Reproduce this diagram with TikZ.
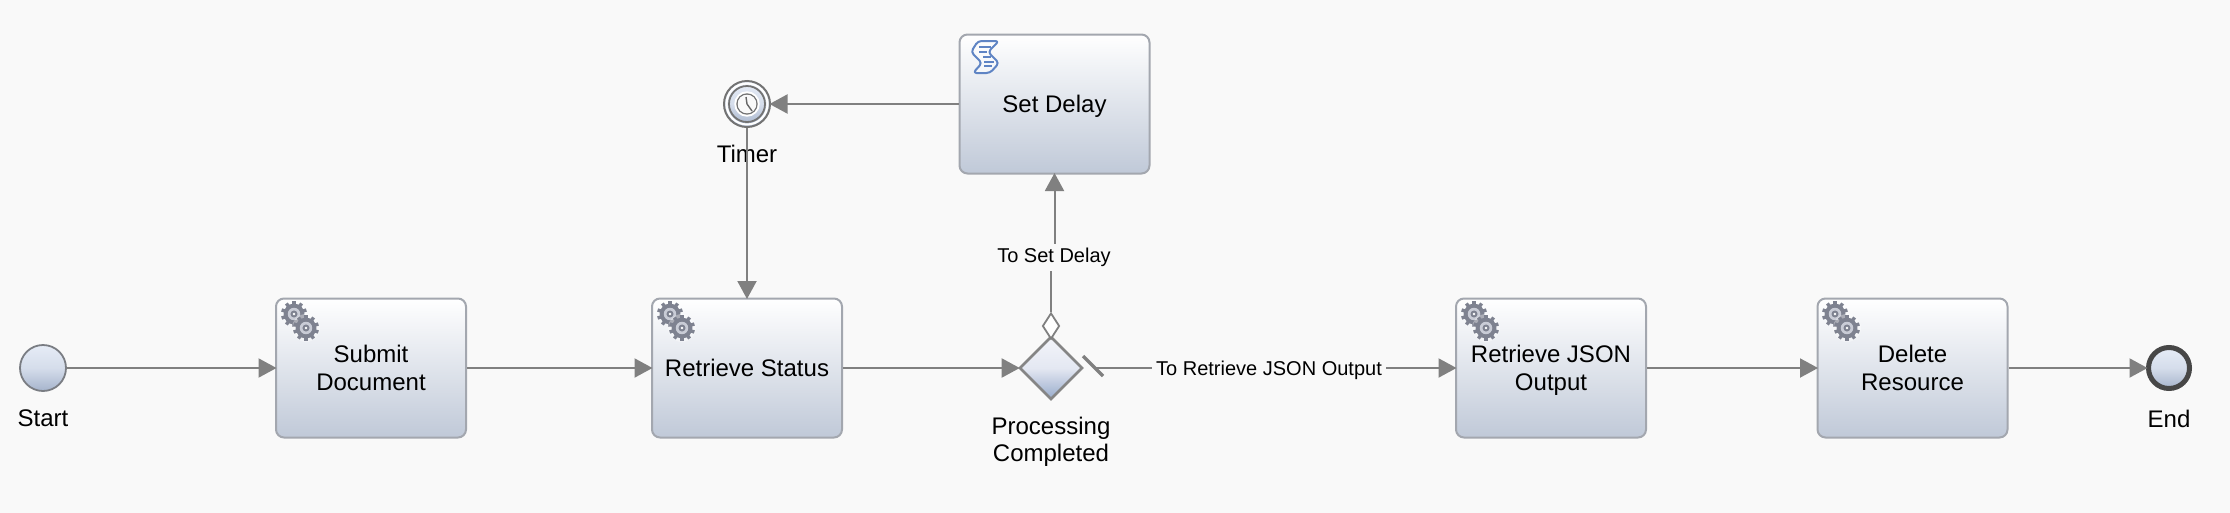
\documentclass[tikz,border=0pt]{standalone}
\usepackage{fontspec}
\setmainfont{Liberation Sans}
\usetikzlibrary{arrows.meta,shapes.geometric,calc}
\definecolor{bgc}{HTML}{F9F9F9}
\definecolor{linec}{HTML}{808080}
\definecolor{taskedge}{HTML}{A3A7AF}
\definecolor{tbot}{HTML}{C0C9D8}
\definecolor{etop}{HTML}{E6ECF6}
\definecolor{emid}{HTML}{D5DDEB}
\definecolor{ebot}{HTML}{A6B4CC}
\definecolor{dtop}{HTML}{F3F4FA}
\definecolor{dmid}{HTML}{E4E8F2}
\definecolor{dbot}{HTML}{98ABCB}
\definecolor{gearc}{HTML}{7E8290}
\definecolor{gearh}{HTML}{C9CCD6}
\definecolor{scriptc}{HTML}{5F84C4}
\pgfdeclareverticalshading{taskfill}{100bp}{
 color(0bp)=(tbot);color(25bp)=(tbot);color(75bp)=(white);color(100bp)=(white)}
\pgfdeclareverticalshading{eventfill}{100bp}{
 color(0bp)=(ebot);color(25bp)=(ebot);color(50bp)=(emid);color(75bp)=(etop);color(100bp)=(etop)}
\pgfdeclareverticalshading{gatefill}{100bp}{
 color(0bp)=(dbot);color(25bp)=(dbot);color(50bp)=(dmid);color(75bp)=(dtop);color(100bp)=(dtop)}
\newcommand{\gearpath}[3]{% x y radius
  \begin{scope}[shift={(#1,#2)}]
    \foreach \a in {0,36,...,324}{
      \fill[gearc,rotate=\a] (-#3*0.13,#3*0.6) rectangle (#3*0.13,#3);
    }
    \fill[gearc] (0,0) circle[radius=#3*0.8];
    \fill[gearh] (0,0) circle[radius=#3*0.48];
    \fill[gearc] (0,0) circle[radius=#3*0.27];
    \fill[white] (0,0) circle[radius=#3*0.1];
  \end{scope}}
\newcommand{\nodepth}[1]{\raisebox{0pt}[\height][0pt]{#1}}
\tikzset{
  x=1pt,y=-1pt,
  taskbox/.style={draw=taskedge,line width=2pt,rounded corners=8pt,minimum width=190pt,minimum height=139pt,
    shading=taskfill,align=center,inner sep=0pt,font=\fontsize{24}{27.5}\selectfont,text=black},
  eventc/.style={circle,shading=eventfill,minimum size=46pt,inner sep=0pt},
  captext/.style={font=\fontsize{24}{27.5}\selectfont,align=center,text=black,inner sep=0pt},
  edgelab/.style={font=\fontsize{20}{24}\selectfont,text=black,inner sep=4pt},
  flow/.style={draw=linec,line width=2pt,shorten >=-1.5pt,-{Triangle[length=18pt,width=19pt,fill=linec]}},
  plainflow/.style={draw=linec,line width=2pt},
  pics/gears/.style={code={
    \gearpath{-6}{-8}{13}
    \fill[white,opacity=.35] (6,6) circle[radius=14];
    \gearpath{6}{6}{13}
  }},
  pics/scripticon/.style={code={
    \draw[draw=scriptc,line width=2pt,line join=round,fill=white,fill opacity=.45,rounded corners=3.5pt]
      (-7,-16) -- (14,-16) -- (3,-5) -- (14,6) -- (5,16) -- (-12,16) -- (-3,6) -- (-14,-5) -- cycle;
    \foreach \ya/\xa/\xb in {-10/-6/6,-5/-6/2,0/-2/6,5/-1/9,9/-1/7}{
      \draw[scriptc,line width=1.8pt] (\xa,\ya) -- (\xb,\ya);
    }
  }},
}
\begin{document}
\begin{tikzpicture}
\fill[bgc] (-5,-5) rectangle (2235,519);

% tasks
\node[taskbox] (submit) at (371,369) {Submit\\Document};
\node[taskbox] (status) at (747,369) {Retrieve Status};
\node[taskbox] (json) at (1551,369) {Retrieve JSON\\\nodepth{Output}};
\node[taskbox] (delete) at (1912.5,369) {Delete\\Resource};
\node[taskbox] (delay) at (1054.5,105) {\nodepth{Set Delay}};

% events
\node[eventc,draw=taskedge!75!black,line width=1.8pt] (start) at (43,369) {};
\node[eventc,draw=black!72,line width=5pt,minimum size=41pt] (end) at (2169,369) {};
\node[eventc,draw=black!55,line width=2pt,minimum size=46pt] (timer) at (747,105) {};
\draw[white,line width=2pt] (timer.center) circle[radius=20.5];
\draw[black!55,line width=1.8pt] (timer.center) circle[radius=18];
\draw[white,line width=2.4pt] (timer.center) circle[radius=11.5];
\draw[black!55,line width=1.4pt] (timer.center) circle[radius=10];
\fill[bgc] (timer.center) circle[radius=9.3];
\draw[black!60,line width=1.4pt] (746,98) -- (timer.center) -- (752,112);

% gateway
\node[diamond,shading=gatefill,draw=black!48,line width=2.6pt,minimum width=63pt,minimum height=63pt,inner sep=0pt] (gate) at (1051,369) {};

% captions
\node[captext] (lstart) at (43,419.5) {Start};
\node[captext] (lend) at (2169,419.5) {End};
\node[captext] (ltimer) at (747,154.5) {Timer};
\node[captext] (lgate) at (1051,443) {Processing\\Completed};

% sequence flows
\draw[flow] (start) -- (submit);
\draw[flow] (submit) -- (status);
\draw[flow] (status) -- (gate);
\draw[flow] (json) -- (delete);
\draw[flow] (delete) -- (end);
\draw[flow] (delay.west) -- (timer.east);
\draw[flow] (timer.south) -- (status.north);

% default flow and label
\coordinate (slashA) at (1083,357);
\coordinate (slashB) at (1103,377);
\coordinate (flowstart) at (1095,369);
\node[edgelab] (ljson) at (1269,371) {To Retrieve JSON Output};
\draw[plainflow] (flowstart) -- (ljson.west |- flowstart);
\draw[flow] (ljson.east |- flowstart) -- (json.west);
\draw[linec,line width=3.2pt] (slashA) -- (slashB);

% conditional flow
\node[diamond,draw=linec,fill=white,line width=1.8pt,minimum width=17pt,minimum height=26pt,inner sep=0pt] (cond) at (1051,327) {};
\node[edgelab] (ldelay) at (1054,258.5) {To Set Delay};
\draw[plainflow] (cond.north) -- (cond.north |- ldelay.south);
\draw[flow] (ldelay.north -| delay.south) -- (delay.south);

% icons
\pic at (300,323) {gears};
\pic at (676,323) {gears};
\pic at (1480,323) {gears};
\pic at (1841,323) {gears};
\pic at (985,58) {scripticon};

\pgfresetboundingbox
\useasboundingbox (0,1) rectangle (2230,513);
\end{tikzpicture}
\end{document}
